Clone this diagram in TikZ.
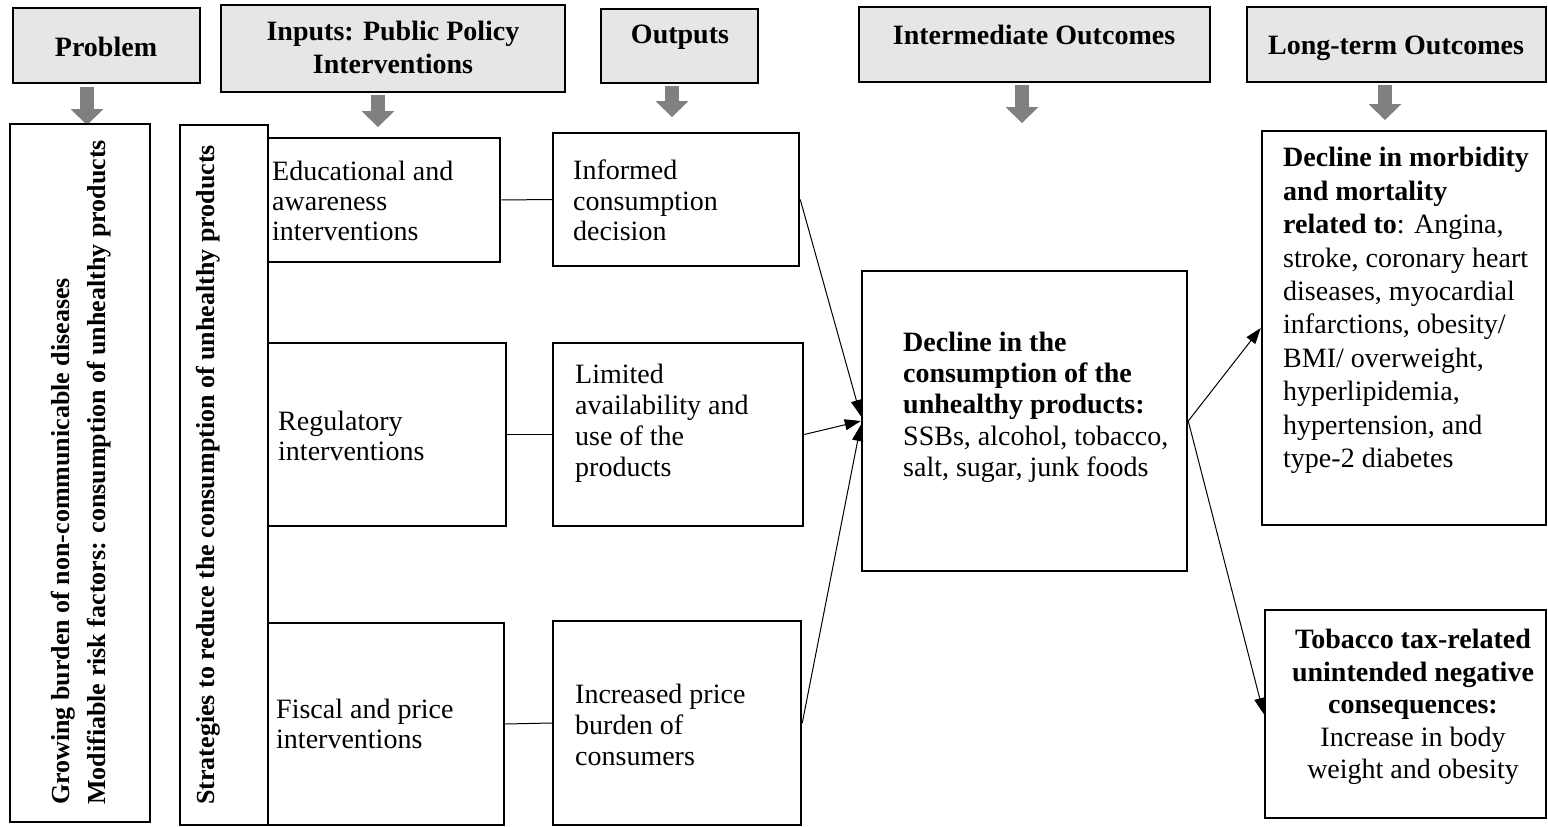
\documentclass[tikz,border=0pt]{standalone}
\usepackage{fontspec}
\setmainfont{Liberation Serif}
\usetikzlibrary{arrows.meta}

\definecolor{hdrgray}{RGB}{231,230,230}
\definecolor{arrowgray}{RGB}{128,128,128}

% body font: 28pt with a chosen line pitch
\newcommand{\fsz}[1]{\fontsize{28}{#1}\selectfont}
% rectangle node from its edges: name, x1, y1, x2, y2, style
\newcommand{\rectnode}[6]{%
  \node[#6, minimum width={(#4-#2)*1pt}, minimum height={(#5-#3)*1pt}]
    (#1) at ({(#2+#4)/2},{(#3+#5)/2}) {};}

\begin{document}
\begin{tikzpicture}[x=1pt, y=-1pt,
  hdr/.style={draw=black, line width=2.5pt, fill=hdrgray, inner sep=0pt},
  box/.style={draw=black, line width=2.5pt, fill=white, inner sep=0pt},
  txt/.style={inner sep=0pt, align=left, anchor=west},
  ctxt/.style={inner sep=0pt, align=center},
  rot/.style={inner sep=0pt, align=left, anchor=west, rotate=90,
    font=\fontsize{26}{36}\selectfont\bfseries},
  garrow/.style={draw=arrowgray, line width=14pt,
    -{Triangle[length=16pt, width=33pt, line width=0pt]}},
  link/.style={draw=black, line width=1pt},
  flow/.style={draw=black, line width=1pt,
    -{Triangle[length=16pt, width=11pt]}}]

\useasboundingbox (0,0) rectangle (1548,827);

% column headers
\rectnode{hProb}{13}{8}{200}{83}{hdr}
\rectnode{hInp}{221}{5}{565}{92}{hdr}
\rectnode{hOut}{601}{9}{758}{83}{hdr}
\rectnode{hMid}{859}{7}{1210}{82}{hdr}
\rectnode{hLong}{1247}{7}{1546}{82}{hdr}

\node[ctxt, font=\fsz{31}\bfseries] (tProb) at (106,50) {\strut Problem\strut};
\node[ctxt, font=\fsz{33}\bfseries] (tInp) at (393,50.5) {\strut Inputs: Public Policy\\Interventions\strut};
\node[ctxt, font=\fsz{31}\bfseries] (tOut) at (680,37) {\strut Outputs\strut};
\node[ctxt, font=\fsz{31}\bfseries] (tMidH) at (1034,38) {\strut Intermediate Outcomes\strut};
\node[ctxt, font=\fsz{31}\bfseries] (tLong) at (1396,48) {\strut Long-term Outcomes\strut};

% end points of the header arrows
\coordinate (eProb) at (87,125);
\coordinate (eInp) at (378,127);
\coordinate (eOut) at (672,117);
\coordinate (eMid) at (1022,123);
\coordinate (eLong) at (1385,120);

\draw[garrow] ([yshift=-3pt]eProb |- hProb.south) -- (eProb);
\draw[garrow] ([yshift=-1.5pt]eInp |- hInp.south) -- (eInp);
\draw[garrow] ([yshift=-1.5pt]eOut |- hOut.south) -- (eOut);
\draw[garrow] ([yshift=-1.5pt]eMid |- hMid.south) -- (eMid);
\draw[garrow] ([yshift=-1.5pt]eLong |- hLong.south) -- (eLong);

% problem and strategy columns
\rectnode{bProb}{10}{124}{150}{822}{box}
\rectnode{bStrat}{180}{125}{268}{825}{box}
\node[rot] (tProbB) at (80,805) {\strut Growing burden of non-communicable diseases\\Modifiable risk factors: consumption of unhealthy products\strut};
\node[rot] (tStrat) at (207,805) {\strut Strategies to reduce the consumption of unhealthy products\strut};

% interventions
\rectnode{bEdu}{268}{138}{500}{262}{box}
\rectnode{bReg}{268}{343}{506}{526}{box}
\rectnode{bFis}{268}{623}{504}{825}{box}
\node[txt, font=\fsz{30}] (tEdu) at (272,204) {\strut Educational and\\awareness\\interventions\strut};
\node[txt, font=\fsz{30}] (tReg) at (278,439) {\strut Regulatory\\interventions\strut};
\node[txt, font=\fsz{30}] (tFis) at (276,727) {\strut Fiscal and price\\interventions\strut};

% outputs
\rectnode{bInf}{553}{133}{799}{266}{box}
\rectnode{bLim}{553}{343}{803}{526}{box}
\rectnode{bInc}{553}{621}{801}{825}{box}
\node[txt, font=\fsz{30.5}] (tInf) at (573,204) {\strut Informed\\consumption\\decision\strut};
\node[txt, font=\fsz{31}] (tLim) at (575,423.5) {\strut Limited\\availability and\\use of the\\products\strut};
\node[txt, font=\fsz{31}] (tInc) at (575,728) {\strut Increased price\\burden of\\consumers\strut};

% intermediate outcome
\rectnode{bMid}{862}{271}{1187}{571}{box}
\node[txt, font=\fsz{31.25}] (tMid) at (903,407.5) {\strut\textbf{Decline in the}\\\textbf{consumption of the}\\\textbf{unhealthy products:}\\SSBs, alcohol, tobacco,\\salt, sugar, junk foods\strut};

% long-term outcomes
\rectnode{bLt1}{1262}{131}{1546}{525}{box}
\rectnode{bLt2}{1265}{610}{1546}{818}{box}
\node[txt, font=\fsz{33.4}] (tLt1) at (1283,310.5) {\strut\textbf{Decline in morbidity}\\\textbf{and mortality}\\\textbf{related to}: Angina,\\stroke, coronary heart\\diseases, myocardial\\infarctions, obesity/\\BMI/ overweight,\\hyperlipidemia,\\hypertension, and\\type-2 diabetes\strut};
\node[ctxt, font=\fsz{32.5}] (tLt2) at (1413,707) {\strut\textbf{Tobacco tax-related}\\\textbf{unintended negative}\\\textbf{consequences:}\\Increase in body\\weight and obesity\strut};

% connectors
\draw[link] (bEdu.east) -- (bInf.west);
\draw[link] (bReg.east) -- (bLim.west);
\draw[link] (bFis.east) -- (bInc.west);
\draw[flow] (bInf.east) -- ([yshift=5pt]bMid.west);
\draw[flow] (bLim.east) -- (bMid.west);
\draw[flow] (bInc.east) -- ([yshift=-4pt]bMid.west);
\draw[flow] (bMid.east) -- (bLt1.west);
\draw[flow] (bMid.east) -- (bLt2.west);
\end{tikzpicture}
\end{document}
